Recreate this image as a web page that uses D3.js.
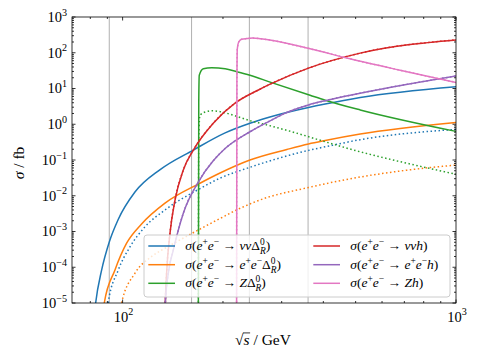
<!DOCTYPE html>
<meta charset="utf-8">
<body style="margin:0;background:#fff">
<script src="https://d3js.org/d3.v7.min.js"></script>
<script>
    // sqrt(s) in GeV and cross sections in fb
    const rtsNuNuDelta = [81, 83, 86.5, 91.2, 97, 108.9, 129.6, 163, 203, 241, 287, 361, 405, 516, 1000];
    const sigNuNuDelta = [1e-6, 1e-5, 8.3e-5, 5.1e-4, 2.17e-3, 1.27e-2, 5.4e-2, 0.19, 0.575, 1.07, 1.76, 2.94, 3.68, 5.6, 11.2];
    const rtsNuNuDeltaDot = [88, 90.5, 97, 105.2, 116.7, 134, 169, 196, 241, 365, 405, 516, 1000];
    const sigNuNuDeltaDot = [1e-6, 1e-5, 8.3e-5, 3.7e-4, 1.35e-3, 4.0e-3, 1.51e-2, 3.1e-2, 6.25e-2, 0.19, 0.234, 0.37, 0.72];

    const rtsEEDelta = [86, 88.1, 94.8, 102.8, 114, 134, 170.6, 196, 241, 311, 361, 405, 516, 1000];
    const sigEEDelta = [1e-6, 1e-5, 8.3e-5, 4.7e-4, 1.62e-3, 6.2e-3, 2.24e-2, 4.33e-2, 0.1, 0.197, 0.281, 0.351, 0.533, 1.12];
    const rtsEEDeltaDot = [97, 99.3, 108.9, 122.2, 134, 148.6, 170.6, 196, 220, 258, 361, 493, 713, 1000];
    const sigEEDeltaDot = [1e-6, 1e-5, 6.8e-5, 2.0e-4, 3.4e-4, 5.8e-4, 1.17e-3, 2.31e-3, 4.02e-3, 7.6e-3, 1.7e-2, 3.1e-2, 5.2e-2, 7.2e-2];

    const rtsZDelta = [168.6, 169.2, 169.8, 174.6, 185, 203, 220, 241, 277, 365, 405, 516, 1000];
    const sigZDelta = [1e-7, 4.0, 23.4, 35.5, 38.0, 35.5, 29.5, 23.4, 15.1, 6.46, 4.71, 2.51, 0.631];
    const rtsZDeltaDot = [168.6, 169.2, 170.6, 178, 185, 203, 220, 241, 255.5, 321.8, 405, 493, 713, 1000];
    const sigZDeltaDot = [1e-7, 0.4, 1.78, 2.24, 2.38, 2.09, 1.66, 1.26, 1.10, 0.617, 0.324, 0.19, 0.081, 0.040];

    const rtsNuNuH = [133, 134.3, 135.5, 138.7, 143.6, 152, 163, 187, 217.4, 255.5, 277, 361, 516, 1000];
    const sigNuNuH = [1e-7, 1e-5, 6.8e-5, 8.9e-4, 7.6e-3, 5.2e-2, 0.19, 1.07, 3.89, 9.1, 13.2, 37.2, 97.7, 229];

    const rtsEEH = [133, 134.3, 137.1, 141.9, 152, 169, 187, 203, 241, 287, 304, 361, 405, 516, 1000];
    const sigEEH = [1e-7, 1e-5, 6.8e-5, 3.0e-4, 3.2e-3, 2.5e-2, 9.5e-2, 0.209, 0.617, 1.48, 1.95, 3.47, 4.57, 7.41, 22.4];

    const rtsZH = [219.6, 220.2, 220.8, 223, 227.6, 236, 245, 260, 365, 481, 680, 1000];
    const sigZH = [1e-7, 15.8, 126, 200, 240, 250, 257, 245, 129, 67.6, 32.4, 14.8];

    // reference energies (vertical lines)
    const refEnergies = [91.19, 161, 240, 360];

    const colors = ["#1f77b4", "#ff7f0e", "#2ca02c", "#d62728", "#9467bd", "#e377c2"];

    // legend labels: [text, style]  i = italic, r = roman, s = superscript, b = subscript below superscript
    const legendLabels = [
        [["σ","i"],["(","r"],["e","i"],["+","s"],["e","i"],["−","s"],[" → ","r"],["νν","i"],["Δ","r"],["0","s"],["R","b"],[")","r"]],
        [["σ","i"],["(","r"],["e","i"],["+","s"],["e","i"],["−","s"],[" → ","r"],["e","i"],["+","s"],["e","i"],["−","s"],["Δ","r"],["0","s"],["R","b"],[")","r"]],
        [["σ","i"],["(","r"],["e","i"],["+","s"],["e","i"],["−","s"],[" → ","r"],["Z","i"],["Δ","r"],["0","s"],["R","b"],[")","r"]],
        [["σ","i"],["(","r"],["e","i"],["+","s"],["e","i"],["−","s"],[" → ","r"],["ννh","i"],[")","r"]],
        [["σ","i"],["(","r"],["e","i"],["+","s"],["e","i"],["−","s"],[" → ","r"],["e","i"],["+","s"],["e","i"],["−","s"],["h","i"],[")","r"]],
        [["σ","i"],["(","r"],["e","i"],["+","s"],["e","i"],["−","s"],[" → ","r"],["Zh","i"],[")","r"]]
    ];

    const solid = [
        [rtsNuNuDelta, sigNuNuDelta], [rtsEEDelta, sigEEDelta], [rtsZDelta, sigZDelta],
        [rtsNuNuH, sigNuNuH], [rtsEEH, sigEEH], [rtsZH, sigZH]
    ];
    const dotted = [
        [rtsNuNuDeltaDot, sigNuNuDeltaDot], [rtsEEDeltaDot, sigEEDeltaDot], [rtsZDeltaDot, sigZDeltaDot],
        [rtsNuNuH, sigNuNuH], [rtsEEH, sigEEH], [rtsZH, sigZH]
    ];

    const margin = {top: 17, right: 22, bottom: 56, left: 72},
        width = 478 - margin.left - margin.right,
        height = 359 - margin.top - margin.bottom;

    const x = d3.scaleLog().domain([70.5, 1000]).range([0, width]);
    const y = d3.scaleLog().domain([1e-5, 1e3]).range([height, 0]);

    const svg = d3.select("body").append("svg")
        .attr("width", 478)
        .attr("height", 359)
        .attr("font-family", "'Liberation Serif', 'DejaVu Serif', serif");
    const g = svg.append("g")
        .attr("transform", "translate(" + margin.left + "," + margin.top + ")");

    svg.append("defs").append("clipPath").attr("id", "plotclip")
        .append("rect").attr("width", width).attr("height", height);

    // grey vertical lines
    g.selectAll(".vline").data(refEnergies).enter().append("line")
        .attr("x1", d => x(d)).attr("x2", d => x(d))
        .attr("y1", 0).attr("y2", height)
        .attr("stroke", "#b0b0b0").attr("stroke-width", 1);

    const line = d3.line().x(d => x(d[0])).y(d => y(d[1])).curve(d3.curveMonotoneX);
    const curves = g.append("g").attr("clip-path", "url(#plotclip)");

    solid.forEach((s, i) => {
        const pts = s[0].map((v, j) => [v, s[1][j]]);
        curves.append("path").attr("d", line(pts))
            .attr("fill", "none").attr("stroke", colors[i]).attr("stroke-width", 1.5);
        const dp = dotted[i][0].map((v, j) => [v, dotted[i][1][j]]);
        curves.append("path").attr("d", line(dp))
            .attr("fill", "none").attr("stroke", colors[i]).attr("stroke-width", 1.5)
            .attr("stroke-dasharray", "1.5,2.5");
    });

    // ticks pointing inwards on all four sides
    const yTicks = y.ticks();
    const xTicks = x.ticks();
    const isMajor = v => Math.abs(Math.log10(v) - Math.round(Math.log10(v))) < 1e-9;
    const ticks = g.append("g").attr("stroke", "#000").attr("stroke-width", 0.8);
    yTicks.forEach(v => {
        const len = isMajor(v) ? 3.5 : 2;
        ticks.append("line").attr("x1", 0).attr("x2", len).attr("y1", y(v)).attr("y2", y(v));
        ticks.append("line").attr("x1", width).attr("x2", width - len).attr("y1", y(v)).attr("y2", y(v));
    });
    xTicks.forEach(v => {
        const len = isMajor(v) ? 3.5 : 2;
        ticks.append("line").attr("y1", height).attr("y2", height - len).attr("x1", x(v)).attr("x2", x(v));
        ticks.append("line").attr("y1", 0).attr("y2", len).attr("x1", x(v)).attr("x2", x(v));
    });

    g.append("rect").attr("width", width).attr("height", height)
        .attr("fill", "none").attr("stroke", "#000").attr("stroke-width", 0.8);

    // power-of-ten labels
    function powLabel(sel, v, fs) {
        const e = Math.round(Math.log10(v));
        sel.append("tspan").text("10");
        sel.append("tspan").text(e < 0 ? "−" + (-e) : String(e))
            .attr("font-size", fs * 0.7).attr("dy", -fs * 0.42);
    }
    const tfs = 14.5;
    yTicks.filter(isMajor).forEach(v => {
        const t = g.append("text").attr("x", -5).attr("y", y(v) + tfs * 0.33)
            .attr("text-anchor", "end").attr("font-size", tfs);
        powLabel(t, v, tfs);
    });
    xTicks.filter(isMajor).forEach(v => {
        const t = g.append("text").attr("x", x(v) + 1).attr("y", height + 18.5)
            .attr("text-anchor", "middle").attr("font-size", tfs);
        powLabel(t, v, tfs);
    });

    // axis labels
    const lfs = 15.5;
    const yl = svg.append("text").attr("transform", "translate(24,163) rotate(-90)")
        .attr("text-anchor", "middle").attr("font-size", lfs);
    yl.append("tspan").text("σ").attr("font-style", "italic");
    yl.append("tspan").text(" / fb");

    const xl = svg.append("text").attr("x", 263).attr("y", 345)
        .attr("text-anchor", "middle").attr("font-size", lfs);
    xl.append("tspan").text("√");
    xl.append("tspan").text("s").attr("font-style", "italic");
    xl.append("tspan").text(" / GeV");
    const s0 = xl.node().getStartPositionOfChar(1).x;
    const s1 = xl.node().getEndPositionOfChar(1).x;
    svg.append("line").attr("x1", s0 - 0.5).attr("x2", s1 + 0.5)
        .attr("y1", 345 - lfs * 0.78).attr("y2", 345 - lfs * 0.78)
        .attr("stroke", "#000").attr("stroke-width", 0.8);

    // legend
    const lg = svg.append("g");
    lg.append("rect").attr("x", 144).attr("y", 235).attr("width", 306).attr("height", 62)
        .attr("rx", 3).attr("fill", "#fff").attr("fill-opacity", 0.8)
        .attr("stroke", "#cccccc").attr("stroke-width", 1);
    const gfs = 13.5;
    const rowsY = [246, 264.7, 283.3];
    legendLabels.forEach((parts, i) => {
        const col = Math.floor(i / 3), row = i % 3;
        const lx = col === 0 ? 148.3 : 313.3;
        const ly = rowsY[row];
        lg.append("line").attr("x1", lx).attr("x2", lx + 26.7).attr("y1", ly).attr("y2", ly)
            .attr("stroke", colors[i]).attr("stroke-width", 1.5);
        const t = lg.append("text").attr("x", lx + 37).attr("y", ly + 4).attr("font-size", gfs);
        let shift = 0, last = null;
        parts.forEach(([str, k]) => {
            const ts = t.append("tspan").text(str);
            let target = 0;
            if (k === "i") ts.attr("font-style", "italic");
            if (k === "s") { target = -gfs * 0.38; ts.attr("font-size", gfs * 0.7); }
            if (k === "b") {
                target = gfs * 0.3;
                ts.attr("font-size", gfs * 0.7).attr("font-style", "italic")
                  .attr("dx", -last.node().getComputedTextLength());
            }
            if (target !== shift) ts.attr("dy", target - shift);
            shift = target;
            last = ts;
        });
    });
</script>
</body>
